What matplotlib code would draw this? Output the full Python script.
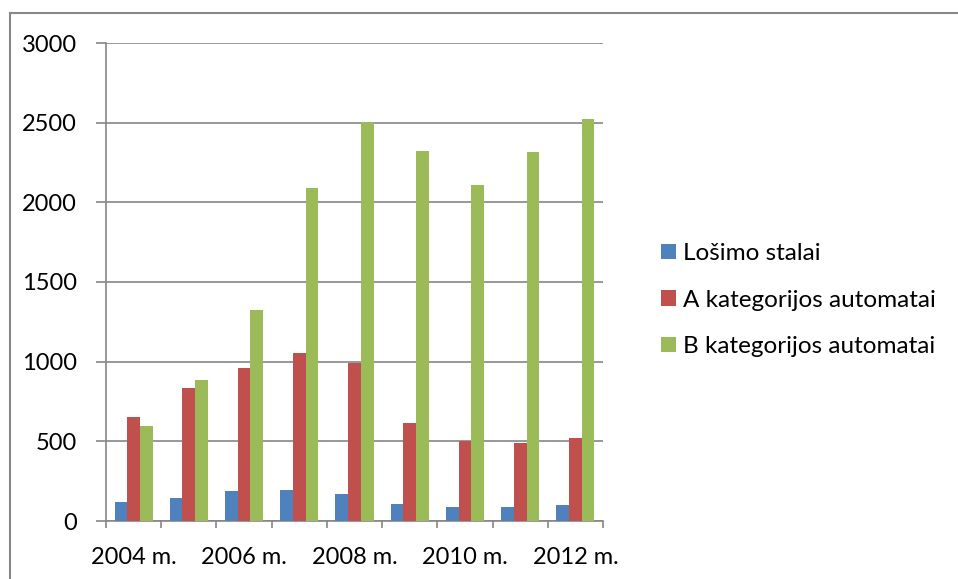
import numpy as np
import matplotlib
matplotlib.use("Agg")
import matplotlib.pyplot as plt
from matplotlib.patches import Rectangle

years = ["2004 m.", "2005 m.", "2006 m.", "2007 m.", "2008 m.",
         "2009 m.", "2010 m.", "2011 m.", "2012 m."]
series_names = ["Lošimo stalai", "A kategorijos automatai", "B kategorijos automatai"]
stalai = [119, 144, 188, 195, 169, 107, 88, 88, 100]
a_kat = [653, 835, 960, 1054, 991, 615, 502, 491, 521]
b_kat = [596, 885, 1324, 2090, 2505, 2322, 2108, 2315, 2523]
colors = ["#4F81BD", "#C0504D", "#9BBB59"]
yticks = [0, 500, 1000, 1500, 2000, 2500, 3000]


def main():
    plt.rcParams['font.family'] = ['Lato', 'DejaVu Sans']
    fig = plt.figure(figsize=(9.58, 5.79), dpi=100)
    ax = fig.add_axes([106 / 958, 1 - 521 / 579, 497 / 958, 478 / 579])

    x = np.arange(len(years))
    w = 0.23
    for i, (vals, name) in enumerate(zip([stalai, a_kat, b_kat], series_names)):
        ax.bar(x + (i - 1) * w, vals, width=w, color=colors[i], label=name, zorder=3)

    ax.set_xlim(-0.5, len(years) - 0.5)
    ax.set_ylim(0, 3000)
    ax.set_yticks(yticks)
    ax.yaxis.grid(True, color="#868686", linewidth=1.2, zorder=0)

    # category boundaries carry the tick marks, labels sit at centres
    ax.set_xticks(np.arange(len(years) + 1) - 0.5)
    ax.set_xticklabels([])
    ax.set_xticks(x, minor=True)
    ax.set_xticklabels([y if k % 2 == 0 else "" for k, y in enumerate(years)], minor=True)
    ax.tick_params(axis="x", which="major", length=5, width=1.2, color="#868686")
    ax.tick_params(axis="x", which="minor", length=0, pad=19, labelsize=17)
    ax.tick_params(axis="y", length=7, width=1.2, color="#868686", pad=14, labelsize=17)

    for s in ["top", "right"]:
        ax.spines[s].set_visible(False)
    for s in ["left", "bottom"]:
        ax.spines[s].set_color("#868686")
        ax.spines[s].set_linewidth(1.2)

    fig.legend(loc="upper left", bbox_to_anchor=(661 / 958, 1 - 243 / 579),
               frameon=False, fontsize=17.5, handlelength=0.62, handleheight=0.62,
               handletextpad=0.3, labelspacing=1.05, borderpad=0, borderaxespad=0)

    fig.add_artist(Rectangle((10 / 958, -0.1), 1.2, 1.1 - 13 / 579,
                             transform=fig.transFigure, fill=False,
                             edgecolor="#888888", linewidth=1.5))

    fig.savefig("out.png", dpi=100)


if __name__ == "__main__":
    main()
